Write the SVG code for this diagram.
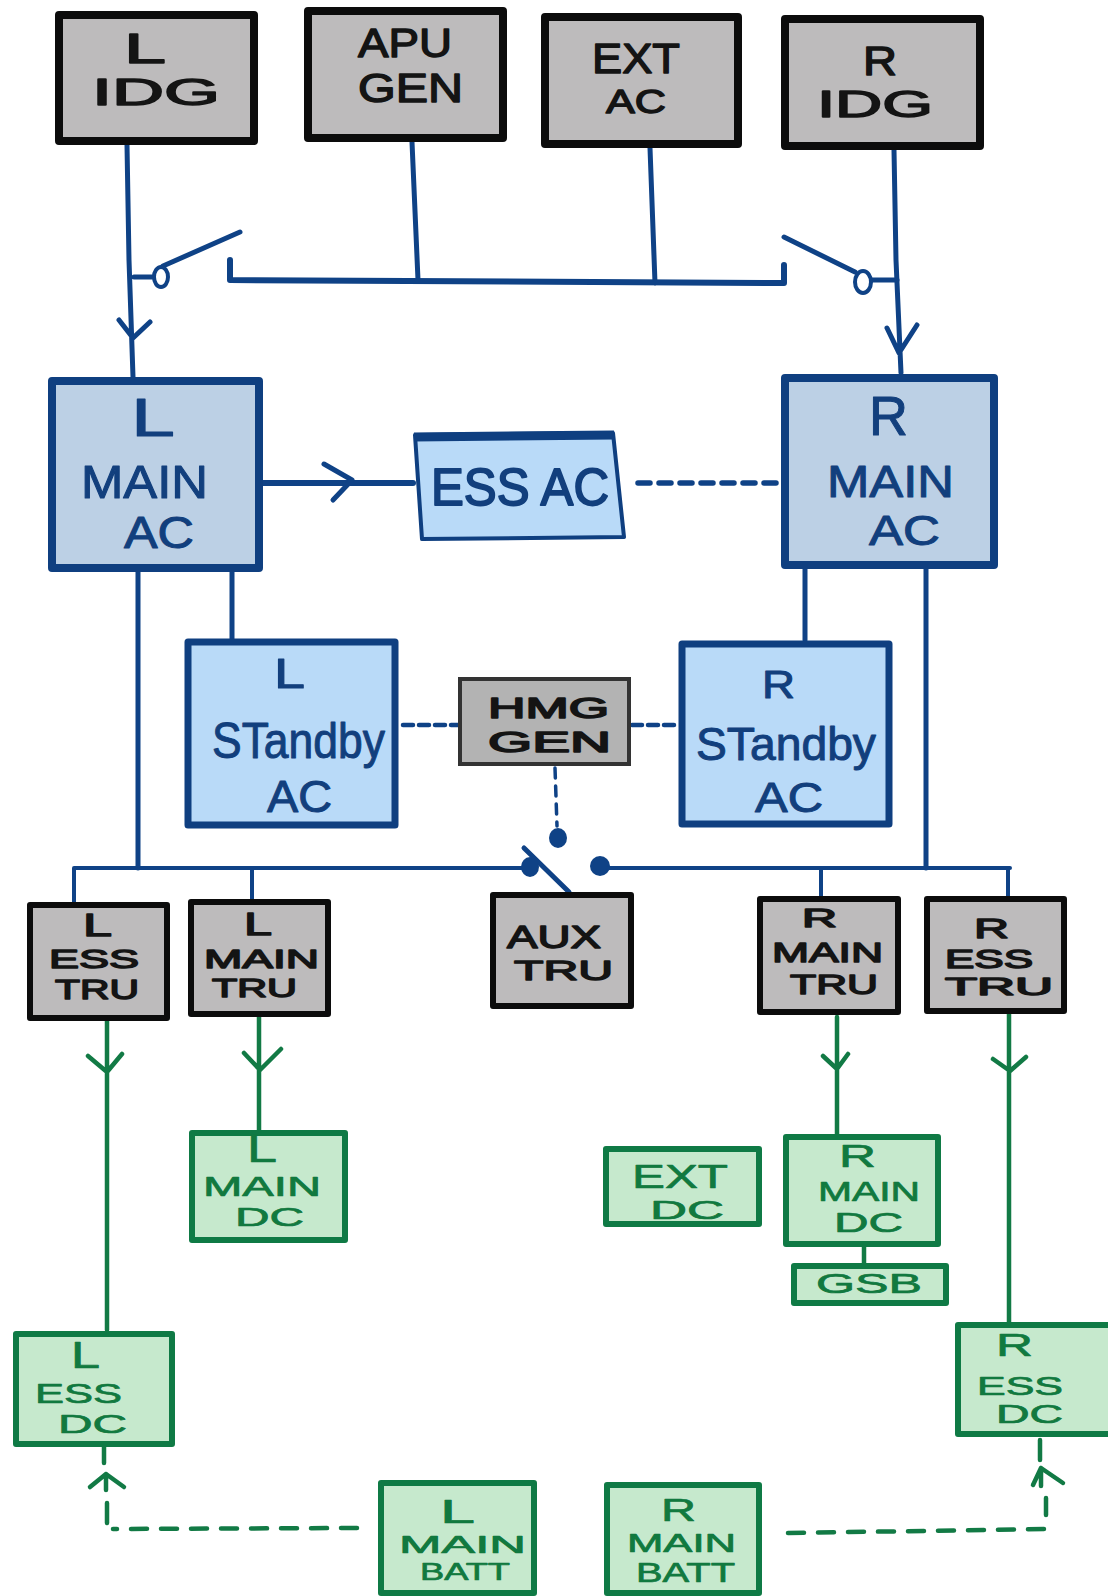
<svg xmlns="http://www.w3.org/2000/svg" width="1108" height="1596" viewBox="0 0 1108 1596">
<style>
text{font-family:"Liberation Sans",Arial,sans-serif;stroke-linejoin:round;paint-order:stroke}
.tk{fill:#141414;stroke:#141414;stroke-width:1.4}
.tb{fill:#123f7d;stroke:#123f7d;stroke-width:1}
.tg{fill:#11793f;stroke:#11793f;stroke-width:.7}
.gray{fill:#bdbbbc;stroke:#0c0c0c;stroke-width:8;stroke-linejoin:round}
.tru{fill:#bdbbbc;stroke:#0c0c0c;stroke-width:6;stroke-linejoin:round}
.main{fill:#bcd0e5;stroke:#0f3f80;stroke-width:8;stroke-linejoin:round}
.stby{fill:#b9daf8;stroke:#0f3f80;stroke-width:7;stroke-linejoin:round}
.dc{fill:#c6e9cd;stroke:#0f7a45;stroke-width:6;stroke-linejoin:round}
.b,.bd,.bn,.g,.gd{fill:none;stroke-linecap:round;stroke-linejoin:round}
.b{stroke:#0f4286;stroke-width:5}
.bn{stroke:#0f4286;stroke-width:4}
.bd{stroke:#0f4286;stroke-width:4.5;stroke-dasharray:12 9}
.g{stroke:#127a45;stroke-width:4.5}
.gd{stroke:#127a45;stroke-width:4.5;stroke-dasharray:16 14}
.dot{fill:#0f4286}
</style>
<rect width="1108" height="1596" fill="#fff"/>
<g id="connectors">
<path class="b" d="M127 145L129 260L133 377M119 320L133 338L150 322"/>
<path class="b" d="M894 150L896 260L901 373M887 328L899 353L917 325"/>
<path class="b" d="M412 142L418 280M650 148L655 283"/>
<path class="b" d="M230 260V280L784 283V265" style="stroke-width:6"/>
<path class="b" d="M134 277H154M163 266L240 232"/>
<ellipse cx="161" cy="277" rx="7" ry="10" fill="#fff" stroke="#0f4286" stroke-width="4"/>
<path class="b" d="M897 280H872M855 272L784 237"/>
<ellipse cx="863" cy="282" rx="8" ry="11" fill="#fff" stroke="#0f4286" stroke-width="4"/>
<path class="b" d="M263 483H413" style="stroke-width:6"/>
<path class="b" d="M324 464L352 480L333 500"/>
<path class="bd" d="M638 483H781" style="stroke-width:5.5"/>
<path class="b" d="M138 572V868M232 572V639M805 569V640M926 569V868"/>
<path class="bd" d="M403 725H460M632 725H675" style="stroke-dasharray:10 6"/>
<path class="bd" d="M555 768L557 826" style="stroke-width:3.5;stroke-dasharray:10 8"/>
<ellipse class="dot" cx="558" cy="838" rx="9" ry="10"/>
<path class="bn" d="M74 902V868H523M252 868V900"/>
<ellipse class="dot" cx="530" cy="867" rx="9" ry="10"/>
<path class="b" d="M524 848L569 892" style="stroke-width:5"/>
<ellipse class="dot" cx="600" cy="866" rx="10" ry="10"/>
<path class="bn" d="M608 868H1010M821 868V897M1008 868V897"/>
<path class="g" d="M107 1021V1330M88 1056L107 1072L122 1054"/>
<path class="g" d="M259 1017V1130M244 1053L260 1070L281 1049"/>
<path class="g" d="M837 1017V1135M823 1056L837 1069L848 1054"/>
<path class="g" d="M1009 1014V1322M993 1059L1010 1071L1026 1057"/>
<path class="g" d="M864 1247V1263"/>
<path class="gd" d="M357 1528L113 1529"/>
<path class="g" d="M107 1523V1503M104 1447V1463M106 1474V1490M90 1487L106 1474L124 1487"/>
<path class="gd" d="M788 1533L1049 1529"/>
<path class="g" d="M1046 1515V1498M1040 1440V1460M1041 1468V1486M1033 1485L1041 1468L1063 1483"/>
</g>
<g id="l-idg"><rect class="gray" x="59" y="15" width="195" height="126"/>
<text class="tk" x="124" y="63" font-size="42" textLength="42" lengthAdjust="spacingAndGlyphs">L</text>
<text class="tk" x="92" y="105" font-size="36" textLength="128" lengthAdjust="spacingAndGlyphs">IDG</text></g>
<g id="apu-gen"><rect class="gray" x="308" y="11" width="195" height="127"/>
<text class="tk" x="358" y="57" font-size="40" textLength="94" lengthAdjust="spacingAndGlyphs">APU</text>
<text class="tk" x="358" y="102" font-size="40" textLength="105" lengthAdjust="spacingAndGlyphs">GEN</text></g>
<g id="ext-ac"><rect class="gray" x="545" y="17" width="193" height="127"/>
<text class="tk" x="592" y="73" font-size="42" textLength="88" lengthAdjust="spacingAndGlyphs">EXT</text>
<text class="tk" x="606" y="113" font-size="34" textLength="60" lengthAdjust="spacingAndGlyphs">AC</text></g>
<g id="r-idg"><rect class="gray" x="785" y="19" width="195" height="127"/>
<text class="tk" x="863" y="75" font-size="40" textLength="34" lengthAdjust="spacingAndGlyphs">R</text>
<text class="tk" x="817" y="117" font-size="36" textLength="116" lengthAdjust="spacingAndGlyphs">IDG</text></g>

<g id="l-main-ac"><rect class="main" x="52" y="381" width="207" height="187"/>
<text class="tb" x="131" y="436" font-size="54" textLength="44" lengthAdjust="spacingAndGlyphs">L</text>
<text class="tb" x="81" y="498" font-size="46" textLength="127" lengthAdjust="spacingAndGlyphs">MAIN</text>
<text class="tb" x="124" y="548" font-size="44" textLength="70" lengthAdjust="spacingAndGlyphs">AC</text></g>
<g id="ess-ac"><path d="M415 435L613 433L624 537L422 539Z" fill="#b9daf8" stroke="#0f3f80" stroke-width="4" stroke-linejoin="round"/>
<path d="M414 437L614 435" stroke="#0f3f80" stroke-width="9" fill="none"/>
<text class="tb" x="431" y="505" font-size="52" textLength="178" lengthAdjust="spacingAndGlyphs" style="stroke-width:1.8">ESS AC</text></g>
<g id="r-main-ac"><rect class="main" x="785" y="378" width="209" height="187"/>
<text class="tb" x="869" y="435" font-size="56" textLength="39" lengthAdjust="spacingAndGlyphs">R</text>
<text class="tb" x="827" y="497" font-size="44" textLength="127" lengthAdjust="spacingAndGlyphs">MAIN</text>
<text class="tb" x="869" y="545" font-size="42" textLength="71" lengthAdjust="spacingAndGlyphs">AC</text></g>

<g id="l-standby-ac"><rect class="stby" x="188" y="642" width="207" height="183"/>
<text class="tb" x="274" y="688" font-size="43" textLength="31" lengthAdjust="spacingAndGlyphs">L</text>
<text class="tb" x="212" y="758" font-size="50" textLength="173" lengthAdjust="spacingAndGlyphs">STandby</text>
<text class="tb" x="267" y="812" font-size="45" textLength="65" lengthAdjust="spacingAndGlyphs">AC</text></g>
<g id="hmg-gen"><rect x="460" y="679" width="169" height="85" fill="#b3b3b3" stroke="#333" stroke-width="4"/>
<text class="tk" x="488" y="718" font-size="30" textLength="121" lengthAdjust="spacingAndGlyphs" style="stroke-width:1.6">HMG</text>
<text class="tk" x="488" y="752" font-size="30" textLength="123" lengthAdjust="spacingAndGlyphs" style="stroke-width:1.6">GEN</text></g>
<g id="r-standby-ac"><rect class="stby" x="682" y="644" width="207" height="180"/>
<text class="tb" x="762" y="698" font-size="38" textLength="33" lengthAdjust="spacingAndGlyphs">R</text>
<text class="tb" x="696" y="760" font-size="47" textLength="180" lengthAdjust="spacingAndGlyphs">STandby</text>
<text class="tb" x="755" y="812" font-size="42" textLength="68" lengthAdjust="spacingAndGlyphs">AC</text></g>

<g id="l-ess-tru"><rect class="tru" x="30" y="905" width="137" height="113"/>
<text class="tk" x="83" y="936" font-size="32" textLength="29" lengthAdjust="spacingAndGlyphs">L</text>
<text class="tk" x="49" y="968" font-size="26" textLength="90" lengthAdjust="spacingAndGlyphs">ESS</text>
<text class="tk" x="55" y="999" font-size="27" textLength="84" lengthAdjust="spacingAndGlyphs">TRU</text></g>
<g id="l-main-tru"><rect class="tru" x="191" y="902" width="137" height="112"/>
<text class="tk" x="244" y="935" font-size="31" textLength="28" lengthAdjust="spacingAndGlyphs">L</text>
<text class="tk" x="204" y="968" font-size="26" textLength="115" lengthAdjust="spacingAndGlyphs">MAIN</text>
<text class="tk" x="212" y="997" font-size="25" textLength="85" lengthAdjust="spacingAndGlyphs">TRU</text></g>
<g id="aux-tru"><rect class="tru" x="493" y="895" width="138" height="111"/>
<text class="tk" x="507" y="948" font-size="31" textLength="94" lengthAdjust="spacingAndGlyphs">AUX</text>
<text class="tk" x="514" y="980" font-size="28" textLength="99" lengthAdjust="spacingAndGlyphs">TRU</text></g>
<g id="r-main-tru"><rect class="tru" x="760" y="899" width="138" height="113"/>
<text class="tk" x="802" y="927" font-size="25" textLength="35" lengthAdjust="spacingAndGlyphs">R</text>
<text class="tk" x="772" y="962" font-size="28" textLength="111" lengthAdjust="spacingAndGlyphs">MAIN</text>
<text class="tk" x="790" y="994" font-size="28" textLength="88" lengthAdjust="spacingAndGlyphs">TRU</text></g>
<g id="r-ess-tru"><rect class="tru" x="927" y="899" width="137" height="112"/>
<text class="tk" x="974" y="938" font-size="28" textLength="35" lengthAdjust="spacingAndGlyphs">R</text>
<text class="tk" x="945" y="968" font-size="25" textLength="88" lengthAdjust="spacingAndGlyphs">ESS</text>
<text class="tk" x="945" y="995" font-size="24" textLength="108" lengthAdjust="spacingAndGlyphs">TRU</text></g>

<g id="l-main-dc"><rect class="dc" x="192" y="1133" width="153" height="107"/>
<text class="tg" x="247" y="1162" font-size="38" textLength="30" lengthAdjust="spacingAndGlyphs">L</text>
<text class="tg" x="203" y="1196" font-size="27" textLength="118" lengthAdjust="spacingAndGlyphs">MAIN</text>
<text class="tg" x="235" y="1226" font-size="26" textLength="69" lengthAdjust="spacingAndGlyphs">DC</text></g>
<g id="ext-dc"><rect class="dc" x="606" y="1149" width="153" height="75"/>
<text class="tg" x="632" y="1188" font-size="34" textLength="96" lengthAdjust="spacingAndGlyphs">EXT</text>
<text class="tg" x="650" y="1219" font-size="26" textLength="74" lengthAdjust="spacingAndGlyphs">DC</text></g>
<g id="r-main-dc"><rect class="dc" x="786" y="1137" width="152" height="107"/>
<text class="tg" x="839" y="1167" font-size="31" textLength="37" lengthAdjust="spacingAndGlyphs">R</text>
<text class="tg" x="818" y="1201" font-size="27" textLength="102" lengthAdjust="spacingAndGlyphs">MAIN</text>
<text class="tg" x="834" y="1232" font-size="27" textLength="69" lengthAdjust="spacingAndGlyphs">DC</text></g>
<g id="gsb"><rect class="dc" x="794" y="1266" width="152" height="37"/>
<text class="tg" x="816" y="1293" font-size="28" textLength="106" lengthAdjust="spacingAndGlyphs">GSB</text></g>
<g id="l-ess-dc"><rect class="dc" x="16" y="1334" width="156" height="110"/>
<text class="tg" x="71" y="1368" font-size="36" textLength="29" lengthAdjust="spacingAndGlyphs">L</text>
<text class="tg" x="35" y="1403" font-size="27" textLength="87" lengthAdjust="spacingAndGlyphs">ESS</text>
<text class="tg" x="58" y="1433" font-size="26" textLength="69" lengthAdjust="spacingAndGlyphs">DC</text></g>
<g id="r-ess-dc"><rect class="dc" x="958" y="1325" width="153" height="109"/>
<text class="tg" x="996" y="1356" font-size="32" textLength="37" lengthAdjust="spacingAndGlyphs">R</text>
<text class="tg" x="977" y="1395" font-size="25" textLength="86" lengthAdjust="spacingAndGlyphs">ESS</text>
<text class="tg" x="996" y="1423" font-size="25" textLength="67" lengthAdjust="spacingAndGlyphs">DC</text></g>
<g id="l-main-batt"><rect class="dc" x="381" y="1483" width="153" height="110"/>
<text class="tg" x="440" y="1523" font-size="34" textLength="35" lengthAdjust="spacingAndGlyphs">L</text>
<text class="tg" x="399" y="1553" font-size="23" textLength="127" lengthAdjust="spacingAndGlyphs">MAIN</text>
<text class="tg" x="420" y="1580" font-size="24" textLength="90" lengthAdjust="spacingAndGlyphs">BATT</text></g>
<g id="r-main-batt"><rect class="dc" x="607" y="1485" width="152" height="108"/>
<text class="tg" x="661" y="1521" font-size="32" textLength="35" lengthAdjust="spacingAndGlyphs">R</text>
<text class="tg" x="627" y="1552" font-size="25" textLength="109" lengthAdjust="spacingAndGlyphs">MAIN</text>
<text class="tg" x="636" y="1582" font-size="27" textLength="99" lengthAdjust="spacingAndGlyphs">BATT</text></g>
</svg>
